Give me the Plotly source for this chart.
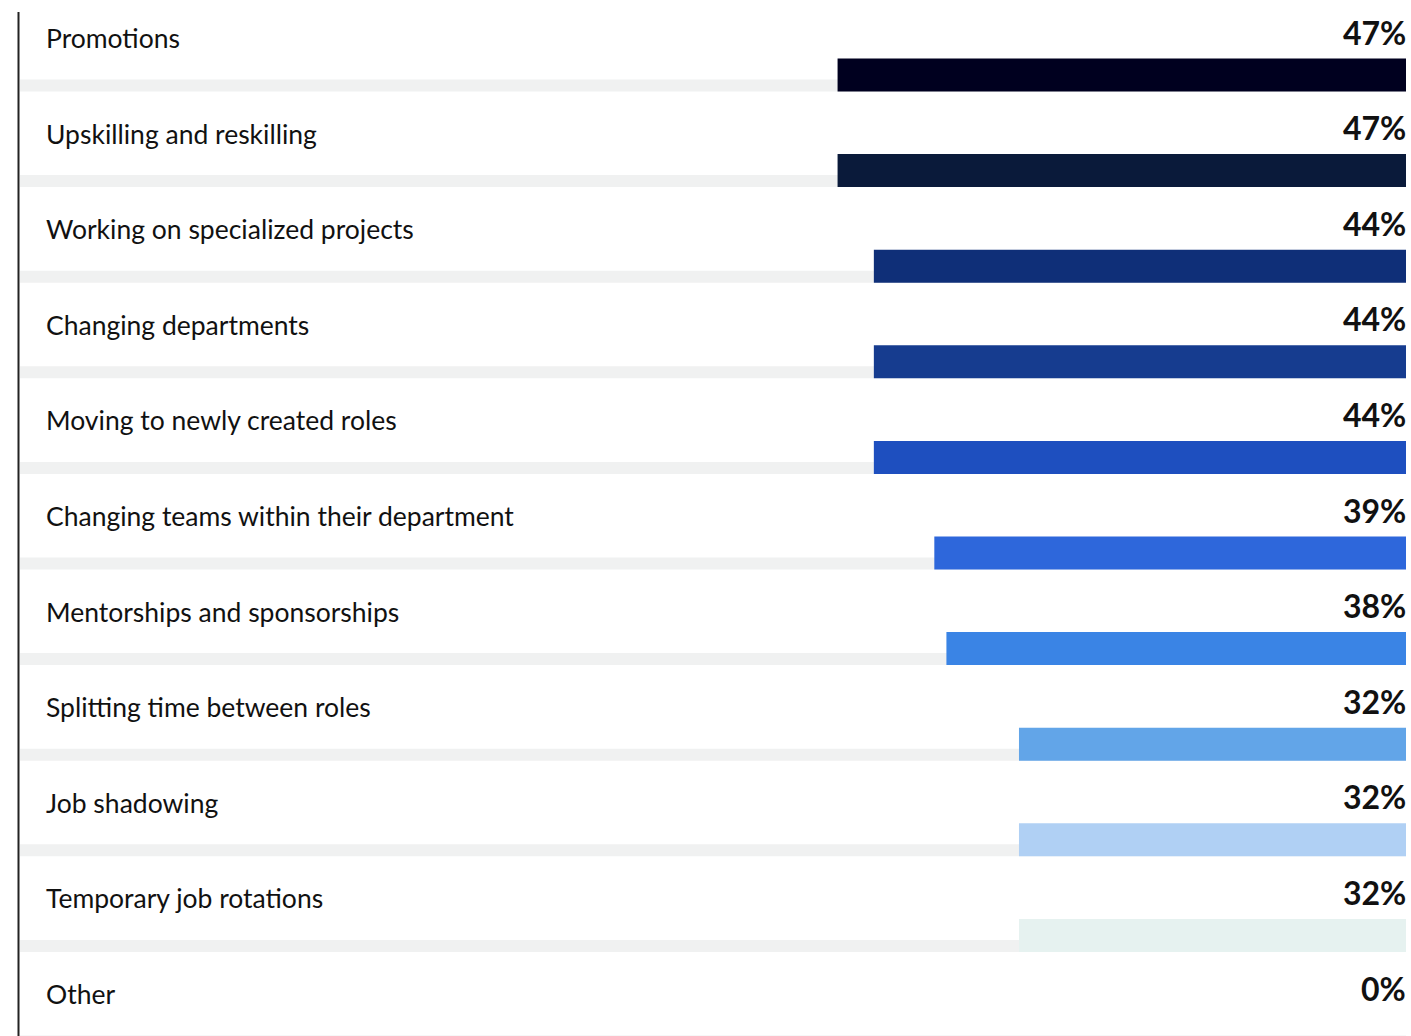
import plotly.graph_objects as go

# Share of respondents by internal mobility option
categories = [
    "Promotions",
    "Upskilling and reskilling",
    "Working on specialized projects",
    "Changing departments",
    "Moving to newly created roles",
    "Changing teams within their department",
    "Mentorships and sponsorships",
    "Splitting time between roles",
    "Job shadowing",
    "Temporary job rotations",
    "Other",
]
values = [47, 47, 44, 44, 44, 39, 38, 32, 32, 32, 0]
value_labels = [f"{v}%" for v in values]

bar_colors = [
    "#00001f", "#0a1a3a", "#0f2f78", "#163c8f", "#1e4fbf", "#2e67db",
    "#3a84e5", "#62a5e8", "#b0d0f4", "#e6f2f0", "#ffffff",
]

W, H = 1411, 1036
X_MAX = 114.6           # axis span; bars grow leftward from the right edge
ROW_PX = 95.6           # pixel height of one category slot
TOP_PX = 75.0           # pixel centre of the first bar
BAR_PX = 33
TRACK_PX = 12

bar_w = BAR_PX / ROW_PX
track_w = TRACK_PX / ROW_PX
y_top = -TOP_PX / ROW_PX
y_bottom = y_top + H / ROW_PX

idx = list(range(len(categories)))


def row_paper_y(i, shift_px):
    """Paper y of a point shift_px above the centre of row i."""
    return 1 - (TOP_PX + ROW_PX * i - shift_px) / H


fig = go.Figure()

# light grey track along the bottom of each row
fig.add_trace(go.Bar(
    y=idx, x=[X_MAX] * len(idx), orientation="h",
    width=track_w, offset=bar_w / 2 - track_w,
    marker=dict(color="#f0f1f1", line=dict(width=0)),
    hoverinfo="skip", showlegend=False,
))

# value bars
fig.add_trace(go.Bar(
    y=idx, x=values, orientation="h",
    width=bar_w, offset=-bar_w / 2,
    marker=dict(color=bar_colors, line=dict(width=0)),
    hovertext=categories, hoverinfo="text+x", showlegend=False,
))

annotations = []
for i, (cat, lab) in enumerate(zip(categories, value_labels)):
    annotations.append(dict(
        x=44 / W, xref="paper", y=row_paper_y(i, 37), yref="paper",
        text=cat, showarrow=False, xanchor="left", yanchor="middle",
        font=dict(family="Lato", size=26.5, color="#111111"),
    ))
    annotations.append(dict(
        x=1408 / W, xref="paper", y=row_paper_y(i, 43), yref="paper",
        text=f"<b>{lab}</b>", showarrow=False, xanchor="right", yanchor="middle",
        font=dict(family="Lato", size=32, color="#111111"),
    ))

fig.update_layout(
    width=W, height=H,
    margin=dict(l=0, r=0, t=0, b=0),
    paper_bgcolor="white", plot_bgcolor="white",
    barmode="overlay",
    xaxis=dict(range=[X_MAX, 0], domain=[20 / W, 1406 / W],
               visible=False, fixedrange=True),
    yaxis=dict(range=[y_bottom, y_top], visible=False, fixedrange=True),
    annotations=annotations,
    shapes=[dict(type="line", xref="paper", yref="paper",
                 x0=18.5 / W, x1=18.5 / W, y0=0, y1=1 - 12 / H,
                 line=dict(color="#222222", width=2))],
)

fig.write_html("out.html")
